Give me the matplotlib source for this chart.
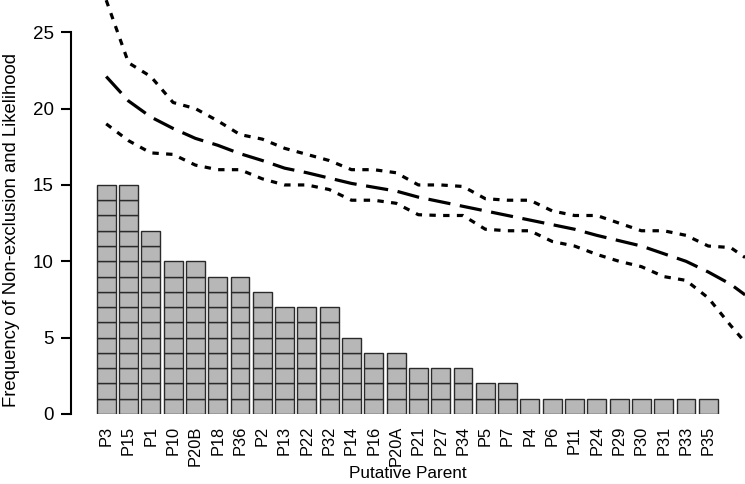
import numpy as np
import matplotlib
matplotlib.use("Agg")
import matplotlib.pyplot as plt

plt.rcParams['font.family'] = ['Liberation Sans', 'DejaVu Sans']

parents = ["P3", "P15", "P1", "P10", "P20B", "P18", "P36", "P2", "P13", "P22",
           "P32", "P14", "P16", "P20A", "P21", "P27", "P34", "P5", "P7", "P4",
           "P6", "P11", "P24", "P29", "P30", "P31", "P33", "P35"]
counts = [15, 15, 12, 10, 10, 9, 9, 8, 7, 7, 7, 5, 4, 4, 3, 3, 3, 2, 2,
          1, 1, 1, 1, 1, 1, 1, 1, 1]

line_x = list(range(29)) + [28.65]
upper = [27.1, 23.0, 22.1, 20.4, 20.0, 19.2, 18.3, 18.0, 17.4, 17.0, 16.6, 16.0,
         16.0, 15.8, 15.0, 15.0, 14.9, 14.1, 14.0, 14.0, 13.3, 13.0, 13.0, 12.5,
         12.0, 12.0, 11.7, 11.0, 10.9, 10.25]
middle = [22.1, 20.5, 19.45, 18.7, 18.05, 17.6, 17.05, 16.6, 16.1, 15.8, 15.45,
          15.1, 14.85, 14.6, 14.2, 13.9, 13.6, 13.3, 13.0, 12.7, 12.4, 12.1, 11.7,
          11.35, 11.0, 10.5, 10.0, 9.3, 8.5, 7.8]
lower = [19.0, 17.9, 17.1, 17.0, 16.3, 16.0, 16.0, 15.4, 15.0, 15.0, 14.7, 14.0,
         14.0, 13.8, 13.05, 13.0, 13.0, 12.1, 12.0, 12.0, 11.3, 11.0, 10.45, 10.0,
         9.65, 9.0, 8.75, 7.6, 5.8, 4.7]

W, H = 745, 484
fig = plt.figure(figsize=(W / 100, H / 100), dpi=100)
ax = fig.add_axes([71 / W, 70 / H, (W - 71) / W, 414 / H])

x = np.arange(len(parents))
for i, c in enumerate(counts):
    ax.bar([x[i]] * c, [1] * c, bottom=np.arange(c), width=0.85,
           color='#b7b7b7', edgecolor='#2a2a2a', linewidth=1.0, zorder=2)

ax.plot(line_x, middle, color='black', linewidth=2.3,
        dashes=(7.0, 3.0), dash_capstyle='butt', zorder=3)
ax.plot(line_x, upper, color='black', linewidth=2.3,
        dashes=(2.0, 2.3), dash_capstyle='butt', zorder=3)
ax.plot(line_x, lower, color='black', linewidth=2.3,
        dashes=(2.0, 2.3), dash_capstyle='butt', zorder=3)

ax.set_xlim((71 - 106.2) / 22.3, (745 - 106.2) / 22.3)
ax.set_ylim(0, 414 / 15.27)

for s in ['top', 'right', 'bottom']:
    ax.spines[s].set_visible(False)
ax.spines['left'].set_bounds(0, 25)
ax.spines['left'].set_linewidth(1.5)

ax.set_yticks([0, 5, 10, 15, 20, 25])
ax.tick_params(axis='y', length=7.5, width=1.5, pad=5.0, labelsize=13.5)
ax.set_xticks(x)
ax.set_xticklabels(parents, rotation=90, fontsize=11.8, va='top', ha='center')
ax.tick_params(axis='x', length=0, pad=8.5)

fig.text(12 / W, 1 - 230 / H, "Frequency of Non-exclusion and Likelihood",
         rotation=90, ha='center', va='center', fontsize=13.3)
fig.text(408 / W, 1 - 474 / H, "Putative Parent", ha='center', va='center',
         fontsize=12.3)

fig.savefig("out.png", dpi=100)
